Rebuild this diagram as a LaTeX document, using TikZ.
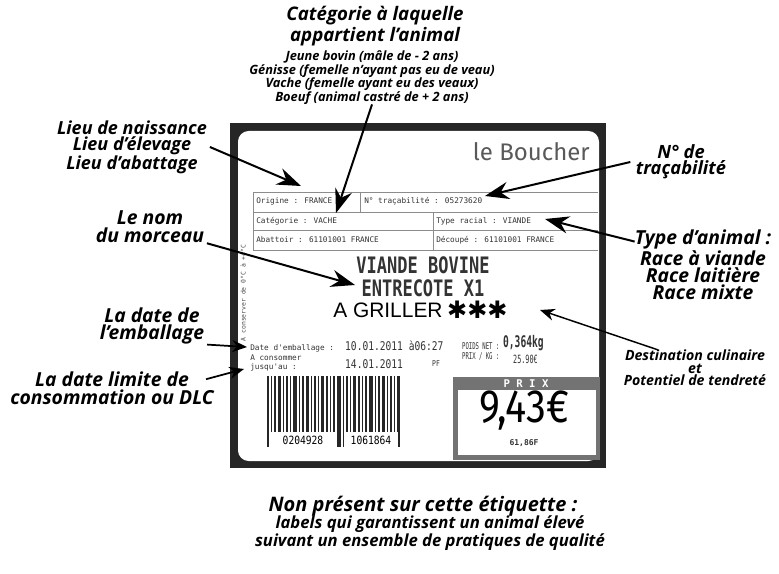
\documentclass[tikz,border=0pt]{standalone}
\usepackage{fontspec}
\setmainfont{Open Sans}
\newfontfamily\labelfont{DejaVu Sans Mono}
\newfontfamily\signfont{Fira Sans}
\newfontfamily\plainfont{Liberation Sans}
\newfontfamily\symbfont{DejaVu Sans}
\usetikzlibrary{arrows.meta,positioning}

\tikzset{
  note/.style={font=\bfseries\itshape\fontsize{13.5}{12}\selectfont, align=center, inner sep=0pt},
  pointer/.style={line width=1.5pt, -{Stealth[length=18pt,width=13pt,inset=6pt]}},
  smallpointer/.style={line width=1.3pt, -{Stealth[length=11pt,width=9pt,inset=3.5pt]}},
  field/.style={font=\labelfont\fontsize{5.8}{6}\selectfont, anchor=west, inner sep=0pt, text=black!80},
  datum/.style={font=\labelfont\fontsize{9}{9}\selectfont, anchor=west, inner sep=0pt, text=black!80, xscale=0.8},
  rule/.style={black!45, line width=0.6pt},
}

\begin{document}
\begin{tikzpicture}[x=0.75pt,y=-0.75pt]
\useasboundingbox (0,0) rectangle (779,574);

\fill[black!85] (230,123) rectangle (606,468);
\fill[white, rounded corners=8pt] (238,131) rectangle (599,461);

\node[font=\signfont\fontsize{18}{18}\selectfont, text=black!65, anchor=east, inner sep=0pt] (boucher) at (590,152) {le Boucher};

\draw[rule] (253,192) -- (598,192);
\draw[rule] (253,212) -- (598,212);
\draw[rule] (253,230) -- (598,230);
\draw[rule] (253,250) -- (598,250);
\draw[rule] (253,192) -- (253,250);
\draw[rule] (360,192) -- (360,212);
\draw[rule] (433,212) -- (433,250);

\node[field] (origine) at (256,201) {Origine : FRANCE};
\node[field] (tracabilite) at (364,201) {N° traçabilité : 05273620};
\node[field] (categorie) at (256,221) {Catégorie : VACHE};
\node[field] (race) at (436,221) {Type racial : VIANDE};
\node[field] (abattoir) at (256,240) {Abattoir : 61101001  FRANCE};
\node[field] (decoupe) at (436,240) {Découpé : 61101001  FRANCE};

\node[font=\labelfont\bfseries\fontsize{17}{17}\selectfont, text=black!80, xscale=0.75, inner sep=0pt] (viande) at (423,265) {VIANDE BOVINE};
\node[font=\labelfont\bfseries\fontsize{17}{17}\selectfont, text=black!80, xscale=0.75, inner sep=0pt] (morceau) at (423,288) {ENTRECOTE X1};
\node[font=\plainfont\fontsize{15.7}{16}\selectfont, anchor=west, inner sep=0pt] (griller) at (333,310) {A GRILLER};
\node[font=\symbfont\bfseries\fontsize{18}{18}\selectfont, anchor=west, inner sep=0pt, right=3pt of griller] (etoiles) {✱✱✱};

\node[font=\labelfont\fontsize{4.8}{5}\selectfont, text=black!70, rotate=90, inner sep=0pt] (conserver) at (243,293) {A conserver de 0°C à +4°C};

\node[field] (emballage) at (250,348) {Date d'emballage :};
\node[field, align=left, font=\labelfont\fontsize{5.8}{7}\selectfont] (jusquau) at (250,363) {A consommer\\jusqu'au :};
\node[datum] (datepack) at (345,346) {10.01.2011 à06:27};
\node[datum] (datelimite) at (345,364) {14.01.2011};
\node[datum, font=\labelfont\fontsize{6}{6}\selectfont] (pf) at (432,364) {PF};

\node[field, align=left, font=\labelfont\fontsize{7}{7.5}\selectfont, xscale=0.6] (poidsnet) at (462,351) {POIDS NET :\\PRIX / KG :};
\node[datum, font=\labelfont\bfseries\fontsize{12}{12}\selectfont, xscale=0.75] (poids) at (503,343) {0,364kg};
\node[datum, font=\labelfont\fontsize{8.5}{8.5}\selectfont, xscale=0.75] (prixkg) at (513,359) {25.90€};

\fill[black!55] (453,377) rectangle (600,460);
\fill[white] (458,390) rectangle (596,455);
\node[font=\labelfont\bfseries\fontsize{8}{8}\selectfont, text=white, inner sep=0pt] (prixtitre) at (526,383.5) {P R I X};
\node[font=\signfont\fontsize{35}{35}\selectfont, xscale=0.85, inner sep=0pt] (prix) at (524,411) {9,43€};
\node[font=\labelfont\bfseries\fontsize{6}{6}\selectfont, text=black!80, inner sep=0pt] (francs) at (524,443) {61,86F};

\foreach \x/\w in {0/2,4/1,7/2,11/3,16/1,19/2,23/1,26/4,32/1,35/2,39/3,44/1,47/2,51/1,54/3,59/2,63/1,66/2,70/4,76/1,79/2,83/1,86/3,91/2,95/1,98/2,102/4,108/1,111/2,115/3,120/1,123/2,127/1,130/3}
  \fill[black!85] (267+\x,376) rectangle ++(\w,71);
\fill[white] (270,432) rectangle (336,448);
\fill[white] (344,432) rectangle (398,448);
\node[font=\labelfont\fontsize{8.5}{8.5}\selectfont, xscale=0.85, inner sep=0pt] (codegauche) at (303,440) {0204928};
\node[font=\labelfont\fontsize{8.5}{8.5}\selectfont, xscale=0.85, inner sep=0pt] (codedroite) at (371,440) {1061864};

\node[note, font=\bfseries\itshape\fontsize{14}{15.75}\selectfont] (categ) at (375,26.5) {Catégorie à laquelle\\appartient l'animal};
\node[note, font=\bfseries\itshape\fontsize{9.6}{10.1}\selectfont] (categliste) at (372,77.5) {Jeune bovin (mâle de - 2 ans)\\Génisse (femelle n'ayant pas eu de veau)\\Vache (femelle ayant eu des veaux)\\Boeuf (animal castré de + 2 ans)};

\node[note] (lieu) at (132,147) {Lieu de naissance\\Lieu d'élevage\\Lieu d'abattage};
\node[note, font=\bfseries\itshape\fontsize{14.5}{13.5}\selectfont] (nom) at (150,227) {Le nom\\du morceau};
\node[note, font=\bfseries\itshape\fontsize{14.5}{13}\selectfont] (dateemb) at (152,326) {La date de\\l'emballage};
\node[note, font=\bfseries\itshape\fontsize{14.5}{13.6}\selectfont] (dlc) at (112,388) {La date limite de\\consommation ou DLC};

\node[note, font=\bfseries\itshape\fontsize{13.7}{12}\selectfont] (numero) at (681,162) {N° de\\traçabilité};
\node[note, font=\bfseries\itshape\fontsize{14.5}{13}\selectfont] (typeanimal) at (703,265) {Type d'animal :\\Race à viande\\Race laitière\\Race mixte};
\node[note, font=\bfseries\itshape\fontsize{10.6}{9.4}\selectfont] (destination) at (695,368) {Destination culinaire\\et\\Potentiel de tendreté};

\node[note, font=\bfseries\itshape\fontsize{15}{13}\selectfont] (nonpresent) at (423,506) {Non présent sur cette étiquette :};
\node[note, font=\bfseries\itshape\fontsize{12.5}{11.25}\selectfont] (labels) at (430,533.5) {labels qui garantissent un animal élevé\\suivant un ensemble de pratiques de qualité};

\coordinate (tipcateg) at (336,213);
\coordinate (tiplieu) at (301,186);
\coordinate (tipnom) at (355,285);
\coordinate (tipemb) at (247,347);
\coordinate (tipdlc) at (244,369);
\coordinate (tipnumero) at (485,196);
\coordinate (tiptype) at (545,219);
\coordinate (tipdest) at (540,310);

\draw[pointer] (categliste.south) -- (tipcateg);
\draw[pointer] ([xshift=2pt]lieu.east) -- (tiplieu);
\draw[pointer] ([xshift=2pt]nom.south east) -- (tipnom);
\draw[smallpointer] ([xshift=2pt]dateemb.south east) -- (tipemb);
\draw[smallpointer] ([xshift=-6pt,yshift=-6pt]dlc.north east) -- (tipdlc);
\draw[pointer] ([xshift=-4pt]numero.west) -- (tipnumero);
\draw[pointer] ([yshift=-9pt]typeanimal.north west) -- (tiptype);
\draw[smallpointer, line width=1.1pt] ([xshift=-28pt]destination.north) -- (tipdest);
\end{tikzpicture}
\end{document}
